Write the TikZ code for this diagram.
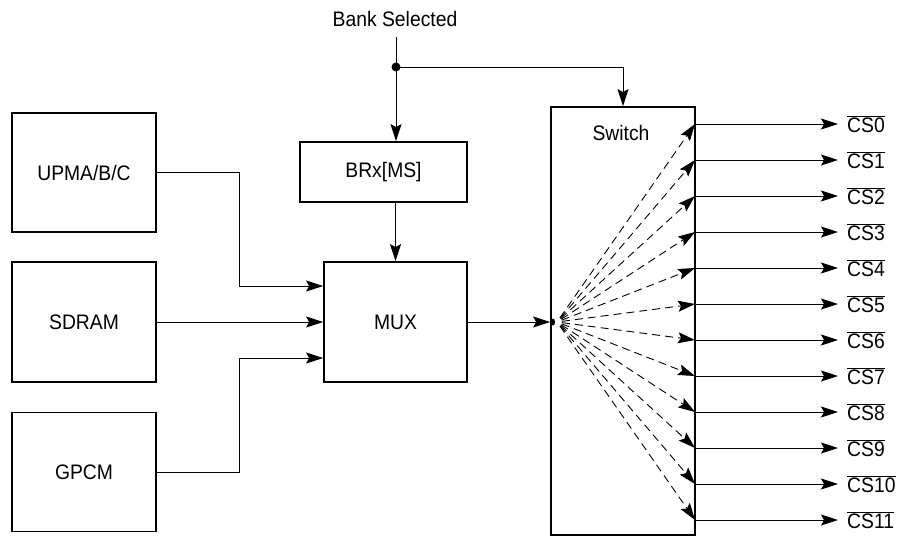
\documentclass[tikz,border=0pt]{standalone}
\usepackage{fontspec}
\setmainfont{Liberation Sans}[FakeStretch=0.92]
\usetikzlibrary{arrows.meta}
\begin{document}
\begin{tikzpicture}[x=1pt,y=-1pt,
  txt/.style={font=\fontsize{21}{24}\selectfont},
  blk/.style={txt,draw,line width=1.8pt,inner sep=0pt},
  conn/.style={line width=0.9pt},
  tip/.tip={Stealth[length=17pt,width=11pt,inset=3pt]},
  arr/.style={conn,-tip},
  darr/.style={conn,dash pattern=on 8pt off 5pt,dash phase=8pt,-tip},
  cslbl/.style={txt,anchor=base west,inner xsep=9pt,inner ysep=0pt}]
\useasboundingbox (0,0) rectangle (899,536);
% blocks
\node[blk,minimum width=144pt,minimum height=119pt] (upm) at (84,172.5) {UPMA/B/C};
\node[blk,minimum width=144pt,minimum height=120pt] (sd) at (84,322) {SDRAM};
\node[blk,minimum width=144pt,minimum height=119pt] (gp) at (84,472) {GPCM};
\node[blk,minimum width=167pt,minimum height=60pt] (brx) at (383.5,172) {BRx[MS]};
\node[blk,minimum width=143pt,minimum height=120pt] (mux) at (395.5,322) {MUX};
\node[draw,line width=1.8pt,inner sep=0pt,minimum width=144pt,minimum height=428pt] (sw) at (623,321) {};
\node[txt] (swl) at (621,133) {Switch};
\node[txt] (bs) at (395,19) {Bank Selected};
% bank selected
\coordinate (bsl) at (396,37);
\coordinate (dot) at (396,67);
\fill (dot) circle (4.5pt);
\draw[conn] (bsl) -- (dot);
\draw[arr] (dot) -- (dot |- brx.north);
\draw[arr] (dot) -| (sw.north);
\draw[arr] (mux.north |- brx.south) -- (mux.north);
% inputs to mux
\draw[arr] (upm.east) -- (239,172.5) |- ([yshift=36pt]mux.west);
\draw[arr] (sd.east) -- (mux.west);
\draw[arr] (gp.east) -- (239,472) |- ([yshift=-36pt]mux.west);
% mux to switch
\draw[arr] (mux.east) -- (sw.west |- mux.east);
\coordinate (o) at (557,322);
\fill (553,322) ellipse (2pt and 3.5pt);
% fan and outputs
\foreach \i in {0,...,11}{
  \pgfmathsetmacro{\yy}{124+36*\i}
  \coordinate (t\i) at (695,\yy);
  \node[cslbl] (cs\i) at (838,\yy+8) {$\overline{\mbox{CS\i}}$};
  \draw[darr] (o) -- (t\i);
  \draw[arr] (t\i) -- (t\i -| cs\i.west);
}
\end{tikzpicture}
\end{document}
